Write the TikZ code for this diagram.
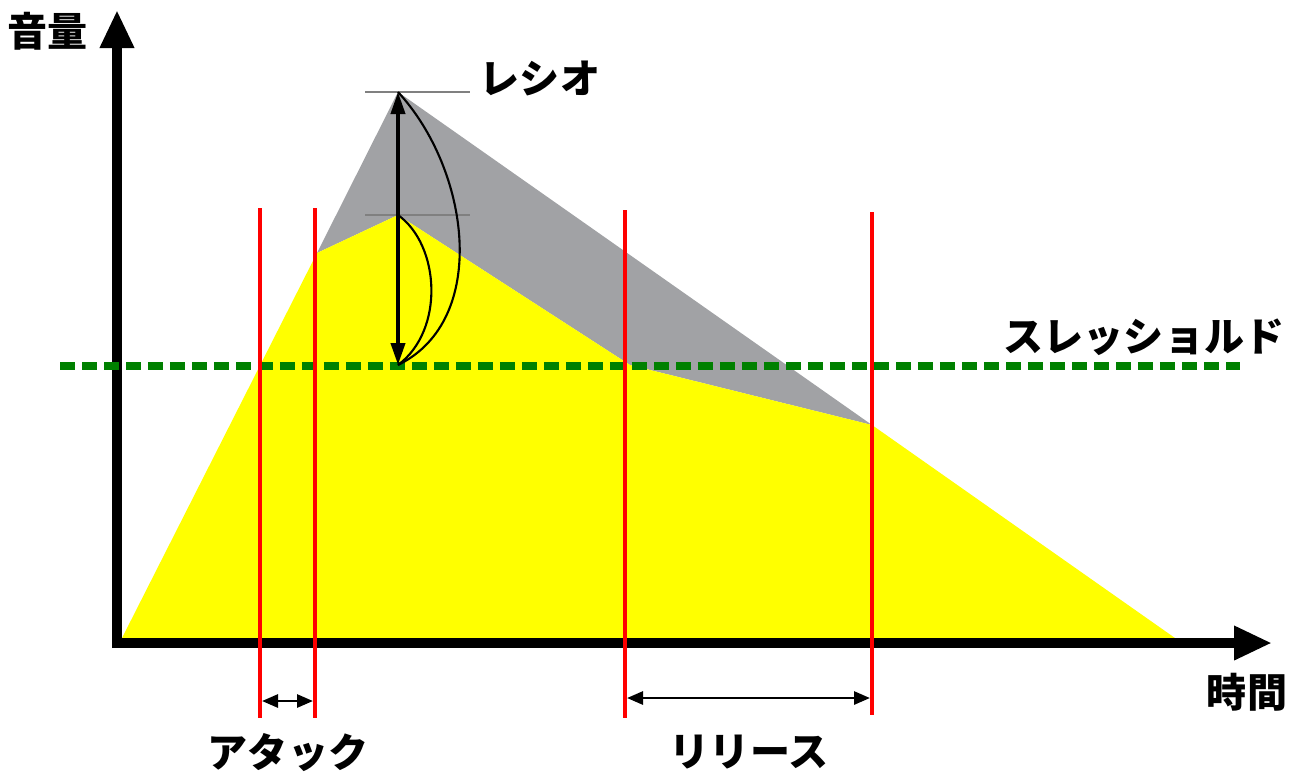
\documentclass[tikz,border=0pt]{standalone}
\usepackage{fontspec}
\newfontfamily\jpfont{Noto Sans CJK JP}[BoldFont=* Black]
\usetikzlibrary{arrows.meta}
\definecolor{envyellow}{RGB}{255,255,0}
\definecolor{envgray}{RGB}{161,162,165}
\definecolor{thgreen}{RGB}{0,128,0}

\begin{document}
\begin{tikzpicture}[
  x=0.1mm,
  y=-0.1mm,
  axis/.style={line width=2.9pt,-{Triangle[length=3.8mm,width=3.2mm]}},
  marker/.style={red,line width=1.1pt},
  span/.style={line width=0.8pt,{Triangle[length=1.6mm,width=1.3mm]}-{Triangle[length=1.6mm,width=1.3mm]}},
  label/.style={font=\jpfont\bfseries\fontsize{11.4pt}{12pt}\selectfont,inner sep=0pt}
]
\useasboundingbox (0,0) rectangle (1306,775);

% envelope points
\coordinate (start) at (122,638);
\coordinate (knee)  at (317,253);
\coordinate (peak)  at (398,92);
\coordinate (comp)  at (398,215);
\coordinate (thr)   at (398,365);
\coordinate (rel)   at (630,365);
\coordinate (tail)  at (872,425);
\coordinate (stop)  at (1175,638);

% envelope before and after compression
\fill[envgray] (knee) -- (peak) -- (tail) -- (rel) -- (comp) -- cycle;
\fill[envyellow] (start) -- (knee) -- (comp) -- (rel) -- (tail) -- (stop) -- cycle;

% axes
\coordinate (origin) at (117,648);
\coordinate (ytip) at (117,10);
\coordinate (xorigin) at (112,643);
\coordinate (xtip) at (1272,643);
\draw[axis,line width=3.1pt] (origin) -- (ytip);
\draw[axis] (xorigin) -- (xtip);

% threshold
\coordinate (thl) at (60,366);
\coordinate (thr2) at (1240,366);
\draw[thgreen,line width=2.2pt,dash pattern=on 1.5mm off 0.7mm] (thl) -- (thr2);

% attack / release markers
\foreach \name/\xx/\yt/\yb in {a1/260/208/718,a2/315/208/718,r1/625/210/718,r2/872/212/715}{
  \coordinate (\name top) at (\xx,\yt);
  \coordinate (\name bot) at (\xx,\yb);
  \draw[marker] (\name top) -- (\name bot);
}
\coordinate (aL) at (262,701);
\coordinate (aR) at (313,701);
\coordinate (rL) at (627,698);
\coordinate (rR) at (870,698);
\draw[span] (aL) -- (aR);
\draw[span] (rL) -- (rR);

% ratio
\coordinate (pl) at (365,92);
\coordinate (pr) at (470,92);
\coordinate (cl) at (365,215);
\coordinate (cr) at (470,215);
\draw[gray,line width=0.35pt] (pl) -- (pr);
\draw[gray,line width=0.35pt] (cl) -- (cr);
\draw[line width=1.1pt,{Triangle[length=2.2mm,width=1.4mm]}-{Triangle[length=2.2mm,width=1.4mm]}] (peak) -- (thr);
\draw[line width=0.6pt] (peak) .. controls (470,170) and (490,320) .. (thr);
\draw[line width=0.6pt] (comp) .. controls (440,245) and (445,330) .. (thr);

% labels
\node[label] (vol) at (48,31) {音量};
\node[label] (ratio) at (540,78) {レシオ};
\node[label] (thresh) at (1144,337) {スレッショルド};
\node[label] (attack) at (288,753) {アタック};
\node[label] (release) at (749,752) {リリース};
\node[label] (time) at (1247,692) {時間};
\end{tikzpicture}
\end{document}
